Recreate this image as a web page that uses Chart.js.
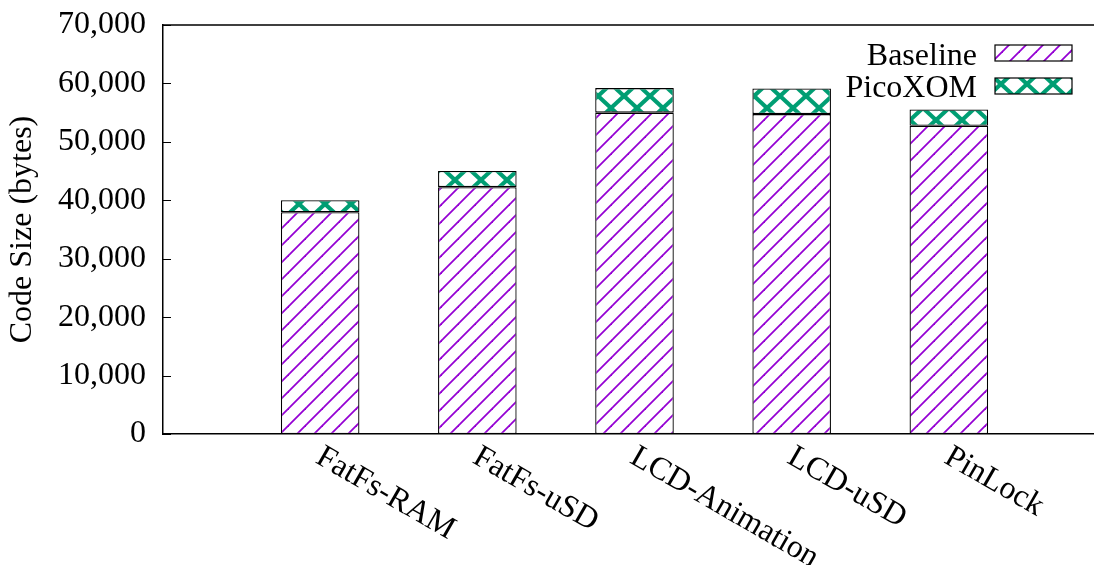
<!DOCTYPE html>
<html>
<head>
<meta charset="utf-8">
<script src="https://cdn.jsdelivr.net/npm/chart.js@4/dist/chart.umd.min.js"></script>
<style>
  html, body { margin: 0; padding: 0; background: #fff; overflow: hidden; }
  #wrap { width: 1094px; height: 565px; overflow: hidden; position: relative; }
  canvas { display: block; }
</style>
</head>
<body>
<div id="wrap"><canvas id="chart" width="1112" height="565"></canvas></div>
<script>
// Benchmarks and code size (bytes)
const categories = ['FatFs-RAM', 'FatFs-uSD', 'LCD-Animation', 'LCD-uSD', 'PinLock'];
const baselineSize = [37950, 42250, 55000, 54750, 52750];
const picoxomExtra = [2050, 2750, 4200, 4400, 2800];
const seriesNames = ['Baseline', 'PicoXOM'];
const yTicks = [0, 10000, 20000, 30000, 40000, 50000, 60000, 70000];

const FONT = '"Liberation Serif", "Times New Roman", serif';
const FONT_SIZE = 32;
const PURPLE = '#9400d3';
const GREEN = '#009e73';

// Hatch fills
function makeTile(w, h, draw) {
  const c = document.createElement('canvas');
  c.width = w; c.height = h;
  const g = c.getContext('2d');
  draw(g, w, h);
  return document.createElement('canvas').getContext('2d').createPattern(c, 'repeat');
}
const slashFill = makeTile(17, 17, (g, w, h) => {
  g.fillStyle = '#fff'; g.fillRect(0, 0, w, h);
  g.strokeStyle = PURPLE; g.lineWidth = 1.8; g.lineCap = 'butt';
  for (const d of [-w, 0, w]) {
    g.beginPath(); g.moveTo(d - 2, h + 2); g.lineTo(d + w + 2, -2); g.stroke();
  }
});
const crossFill = makeTile(26, 24, (g, w, h) => {
  g.fillStyle = '#fff'; g.fillRect(0, 0, w, h);
  g.strokeStyle = GREEN; g.lineWidth = 4.2;
  for (const dx of [-w, 0, w]) {
    for (const dy of [-h, 0, h]) {
      g.beginPath(); g.moveTo(dx, dy); g.lineTo(dx + w, dy + h); g.stroke();
      g.beginPath(); g.moveTo(dx + w, dy); g.lineTo(dx, dy + h); g.stroke();
    }
  }
});

// Empty slots on both sides of the benchmarks
const axisLabels = ['', ...categories, ''];
const pad = arr => [null, ...arr, null];

// Frame, inward ticks, rotated category labels and key
const decorations = {
  id: 'decorations',
  afterDraw(chart) {
    const { ctx, chartArea: a, scales: { x, y } } = chart;
    ctx.save();
    ctx.strokeStyle = '#000';
    ctx.lineWidth = 1.5;
    ctx.beginPath();
    ctx.moveTo(a.left, a.top); ctx.lineTo(a.right, a.top); ctx.lineTo(a.right, a.bottom);
    ctx.stroke();
    ctx.lineWidth = 1;
    for (const v of yTicks) {
      const py = Math.round(y.getPixelForValue(v)) + 0.5;
      ctx.beginPath();
      ctx.moveTo(a.left, py); ctx.lineTo(a.left + 8, py);
      ctx.moveTo(a.right, py); ctx.lineTo(a.right - 8, py);
      ctx.stroke();
    }

    ctx.fillStyle = '#000';
    ctx.font = FONT_SIZE + 'px ' + FONT;
    ctx.textAlign = 'left';
    ctx.textBaseline = 'alphabetic';
    categories.forEach((name, i) => {
      const px = x.getPixelForValue(i + 1);
      ctx.save();
      ctx.translate(px - 6, a.bottom + 28);
      ctx.rotate(Math.PI / 6);
      ctx.fillText(name, 0, 0);
      ctx.restore();
    });

    const fills = [slashFill, crossFill];
    const rows = [{ text: 65, box: 45 }, { text: 97, box: 78 }];
    seriesNames.forEach((name, i) => {
      ctx.textAlign = 'right';
      ctx.fillStyle = '#000';
      ctx.fillText(name, 977, rows[i].text);
      ctx.fillStyle = fills[i];
      ctx.fillRect(995, rows[i].box, 77, 16);
      ctx.strokeStyle = '#000';
      ctx.lineWidth = 1.2;
      ctx.strokeRect(995, rows[i].box, 77, 16);
    });
    ctx.restore();
  }
};

new Chart(document.getElementById('chart'), {
  type: 'bar',
  data: {
    labels: axisLabels,
    datasets: [
      { label: seriesNames[0], data: pad(baselineSize), backgroundColor: slashFill },
      { label: seriesNames[1], data: pad(picoxomExtra), backgroundColor: crossFill }
    ]
  },
  options: {
    responsive: false,
    animation: false,
    devicePixelRatio: 1,
    layout: { padding: { top: 25, right: 6, left: 0, bottom: 0 } },
    datasets: {
      bar: {
        borderColor: '#000',
        borderWidth: 1.3,
        borderSkipped: false,
        categoryPercentage: 1,
        barPercentage: 0.5
      }
    },
    plugins: { legend: { display: false }, tooltip: { enabled: false } },
    scales: {
      x: {
        stacked: true,
        offset: false,
        grid: { display: false, drawTicks: false },
        border: { display: true, color: '#000', width: 1.5 },
        ticks: { display: false },
        afterFit(s) { s.height = 131; s.paddingLeft = 0; s.paddingRight = 0; }
      },
      y: {
        stacked: true,
        min: 0,
        max: 70000,
        grid: { display: false, drawTicks: false },
        border: { display: true, color: '#000', width: 1.5 },
        ticks: {
          stepSize: 10000,
          padding: 17,
          color: '#000',
          font: { family: FONT, size: FONT_SIZE },
          callback: v => v.toLocaleString('en-US')
        },
        title: {
          display: true,
          text: 'Code Size (bytes)',
          color: '#000',
          font: { family: FONT, size: FONT_SIZE },
          padding: { top: 3, bottom: 0 }
        },
        afterFit(s) { s.width = 163; s.paddingTop = 0; s.paddingBottom = 0; }
      }
    }
  },
  plugins: [decorations]
});
</script>
</body>
</html>
